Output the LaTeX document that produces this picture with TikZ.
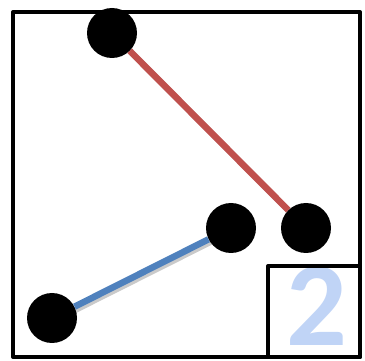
\documentclass[tikz,border=0pt]{standalone}
\usepackage{fontspec}
\newfontfamily\digitfont{Carlito}
\usepackage{tikz}
\usetikzlibrary{positioning}
\definecolor{edgered}{RGB}{192,80,77}
\definecolor{edgeblue}{RGB}{79,129,189}
\definecolor{labelblue}{RGB}{192,212,246}
\tikzset{
frame_box/.style={rectangle, draw, line width=4pt, line join=round},
dot/.style={circle, fill=black, minimum size=50pt, inner sep=0pt},
edge_shadow/.style={line width=6pt, draw=black!35, opacity=0.6, shorten <=20pt, shorten >=20pt},
red_edge/.style={line width=6.5pt, draw=edgered},
blue_edge/.style={line width=6.5pt, draw=edgeblue},
number/.style={text=labelblue, font=\digitfont\bfseries\fontsize{120}{120}\selectfont, inner sep=0pt}
}
\begin{document}
\begin{tikzpicture}[x=1pt, y=-1pt]
    \useasboundingbox (0,0) rectangle (365,361);
    \draw[frame_box] (13,12) rectangle (360,357);
    \node[number] (digit) at (317,306) {2};
    \draw[frame_box] (268,266) rectangle (360,357);
    \coordinate (top_dot_c) at (112,33);
    \coordinate (mid_dot_c) at (231,228);
    \coordinate (right_dot_c) at (306,228);
    \coordinate (low_dot_c) at (52,318);
    % shadows under the edges
    \draw[edge_shadow] ([shift={(2.5,2.5)}]top_dot_c) -- ([shift={(2.5,2.5)}]right_dot_c);
    \draw[edge_shadow] ([shift={(2.5,2.5)}]low_dot_c) -- ([shift={(2.5,2.5)}]mid_dot_c);
    \node[dot] (top_dot) at (top_dot_c) {};
    \node[dot] (mid_dot) at (mid_dot_c) {};
    \node[dot] (right_dot) at (right_dot_c) {};
    \node[dot] (low_dot) at (low_dot_c) {};
    \draw[red_edge] (top_dot) -- (right_dot);
    \draw[blue_edge] (low_dot) -- (mid_dot);
\end{tikzpicture}
\end{document}
